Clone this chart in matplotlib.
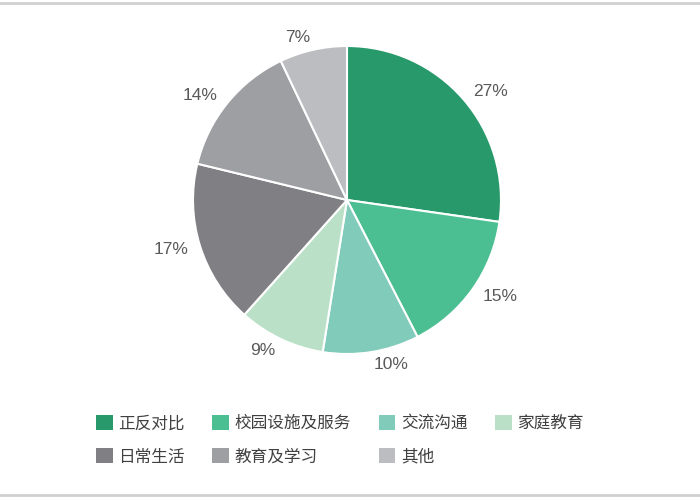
import matplotlib
matplotlib.use('Agg')
from matplotlib import pyplot as plt
from matplotlib.patches import Patch
from matplotlib.lines import Line2D

categories = ['正反对比', '校园设施及服务', '交流沟通', '家庭教育',
              '日常生活', '教育及学习', '其他']
shares = [27, 15, 10, 9, 17, 14, 7]
colors = ['#27996A', '#4BBF91', '#80CBB9', '#BAE1C8',
          '#808084', '#9E9FA3', '#BCBDC1']

plt.rcParams['font.family'] = ['Noto Sans CJK SC', 'DejaVu Sans']

fig = plt.figure(figsize=(7, 5), dpi=100)

# grey rules at top and bottom
fig.add_artist(Line2D([0, 1], [0.994, 0.994], color='#D0D0D0', lw=2))
fig.add_artist(Line2D([0, 1], [0.01, 0.01], color='#D0D0D0', lw=2))

ax = fig.add_axes([0.2757, 0.292, 0.44, 0.616])
pct_labels = ['%d%%' % s for s in shares]
wedges, texts = ax.pie(
    shares, colors=colors, startangle=90, counterclock=False,
    labels=pct_labels, labeldistance=1.08, radius=1,
    wedgeprops=dict(edgecolor='white', linewidth=1.5))
for t in texts:
    t.set_color('#595959')
    t.set_fontsize(12.5)
    t.set_family(['Liberation Sans', 'DejaVu Sans'])
    t.set_clip_on(False)
ax.set_xlim(-1, 1)
ax.set_ylim(-1, 1)
ax.set_aspect('equal')
ax.axis('off')

# legend is filled row by row in the reference, matplotlib fills columns
order = [0, 4, 1, 5, 2, 6, 3]
handles = [Patch(facecolor=colors[i], edgecolor='none') for i in order]
labels = [categories[i] for i in order]
leg = fig.legend(handles, labels, ncol=4, loc='upper left',
                 bbox_to_anchor=(0.137, 1 - 415 / 500), frameon=False,
                 borderpad=0, borderaxespad=0, fontsize=12,
                 handlelength=1.0, handleheight=1.0, handletextpad=0.35,
                 columnspacing=1.65, labelspacing=0.97)
for t in leg.get_texts():
    t.set_color('#404040')

fig.savefig('out.png', dpi=100)
